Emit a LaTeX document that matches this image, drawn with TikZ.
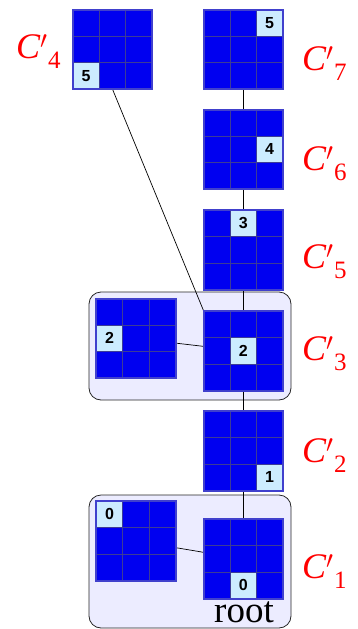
\documentclass[tikz,border=0pt]{standalone}
\usepackage{fontspec}
\newfontfamily\digitfont{Liberation Sans}
\newfontfamily\lserif{Liberation Serif}
\usetikzlibrary{calc}
\definecolor{gridblue}{RGB}{0,0,240}
\definecolor{gridedge}{RGB}{64,64,205}
\definecolor{gridline}{RGB}{60,60,150}
\definecolor{cellhl}{RGB}{204,236,255}
\definecolor{boxfill}{RGB}{236,236,255}
\tikzset{
 gridsq/.style={rectangle, minimum size=79pt, inner sep=0pt, fill=gridblue},
 gridborder/.style={draw=gridedge, line width=2pt},
 innerline/.style={draw=gridline, line width=0.8pt},
 hcell/.style={rectangle, minimum size=26.33pt, inner sep=0pt, fill=cellhl, font=\digitfont\bfseries\fontsize{16}{16}\selectfont},
 grp/.style={rounded corners=12pt, draw=black!85, fill=boxfill, line width=0.8pt},
 lbl/.style={text=red, anchor=base west, inner sep=0pt},
 link/.style={draw=black, line width=0.7pt}
}
\def\cs{26.333}
\newcommand{\clab}[1]{{\lserif\fontsize{36}{40}\selectfont\itshape C\upshape$^{\prime}$\kern0.5pt\raisebox{-10pt}{\fontsize{25}{25}\selectfont #1}}}
% name, cx, cy, row, col, digit
\newcommand{\sqgrid}[6]{%
 \node[gridsq] (#1) at (#2,#3) {};
 \node[hcell] (#1h) at ($(#1.north west)+({(#5-0.5)*\cs},{(#4-0.5)*\cs})$) {#6};
 \draw[innerline] ($(#1.north west)+(\cs,0)$) -- ($(#1.north west)+(\cs,79)$);
 \draw[innerline] ($(#1.north west)+(2*\cs,0)$) -- ($(#1.north west)+(2*\cs,79)$);
 \draw[innerline] ($(#1.north west)+(0,\cs)$) -- ($(#1.north west)+(79,\cs)$);
 \draw[innerline] ($(#1.north west)+(0,2*\cs)$) -- ($(#1.north west)+(79,2*\cs)$);
 \draw[gridborder] (#1.north west) rectangle (#1.south east);
}
\begin{document}
\begin{tikzpicture}[x=1pt,y=-1pt]
\useasboundingbox (0,0) rectangle (358,629);
% group boxes
\node[grp, minimum width=202pt, minimum height=108pt, inner sep=0pt] (g3) at (190,346) {};
\node[grp, minimum width=202pt, minimum height=133pt, inner sep=0pt] (g1) at (190,561.5) {};
% grid outlines for connectors
\node[gridsq, fill=none] (c4) at (112.5,49.5) {};
\node[gridsq, fill=none] (c7) at (243.5,49.5) {};
\node[gridsq, fill=none] (c6) at (243.5,149.5) {};
\node[gridsq, fill=none] (c5) at (243.5,250) {};
\node[gridsq, fill=none] (c3) at (243.5,351) {};
\node[gridsq, fill=none] (c2) at (243.5,451) {};
\node[gridsq, fill=none] (c1) at (243.5,559) {};
\node[gridsq, fill=none] (l3) at (136,338.5) {};
\node[gridsq, fill=none] (l1) at (136,541) {};
% connectors
\draw[link] (c7) -- (c6);
\draw[link] (c6) -- (c5);
\draw[link] (c5) -- (c3);
\draw[link] (c3) -- (c2);
\draw[link] (c2) -- (c1);
\draw[link] (l3) -- (c3);
\draw[link] (l1) -- (c1);
\draw[link] (c4.south) -- (c3.north west);
% grids
\sqgrid{C4}{112.5}{49.5}{3}{1}{5}
\sqgrid{C7}{243.5}{49.5}{1}{3}{5}
\sqgrid{C6}{243.5}{149.5}{2}{3}{4}
\sqgrid{C5}{243.5}{250}{1}{2}{3}
\sqgrid{C3}{243.5}{351}{2}{2}{2}
\sqgrid{C2}{243.5}{451}{3}{3}{1}
\sqgrid{C1}{243.5}{559}{3}{2}{0}
\sqgrid{L3}{136}{338.5}{2}{1}{2}
\sqgrid{L1}{136}{541}{1}{1}{0}
% labels
\node[lbl] (t4) at (16,58) {\clab{4}};
\node[lbl] (t7) at (302,70) {\clab{7}};
\node[lbl] (t6) at (302,170) {\clab{6}};
\node[lbl] (t5) at (302,268) {\clab{5}};
\node[lbl] (t3) at (302,360) {\clab{3}};
\node[lbl] (t2) at (302,462) {\clab{2}};
\node[lbl] (t1) at (302,578) {\clab{1}};
\node[font=\lserif\fontsize{37}{40}\selectfont, anchor=base east, inner sep=0pt] (root) at (274,622) {root};
\end{tikzpicture}
\end{document}
